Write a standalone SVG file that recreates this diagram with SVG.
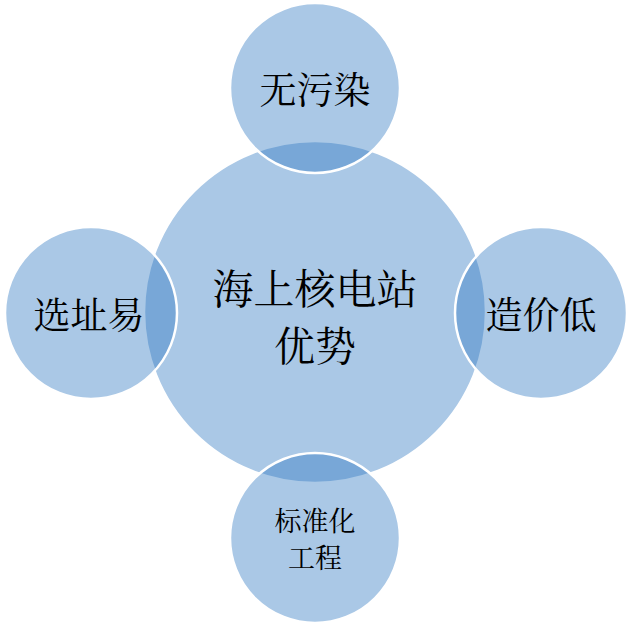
<svg xmlns="http://www.w3.org/2000/svg" width="631" height="627" viewBox="0 0 631 627">
<style>
.c{fill:rgb(48,121,194);fill-opacity:0.41;stroke:#ffffff;stroke-width:2.5}
.t{font-family:"Noto Serif CJK SC","Noto Sans CJK SC",serif;fill:#000;text-anchor:middle;dominant-baseline:central}
</style>
<rect width="631" height="627" fill="#ffffff"/>
<g id="center"><circle class="c" cx="315" cy="312" r="171"/>
<text class="t" x="315" y="286" font-size="41">海上核电站</text>
<text class="t" x="315" y="343" font-size="41">优势</text></g>
<g id="top"><circle class="c" cx="315" cy="88" r="85"/>
<text class="t" x="315" y="88" font-size="37">无污染</text></g>
<g id="left"><circle class="c" cx="91" cy="313" r="86"/>
<text class="t" x="89" y="313" font-size="37">选址易</text></g>
<g id="right"><circle class="c" cx="541" cy="313" r="86"/>
<text class="t" x="541" y="313" font-size="37">造价低</text></g>
<g id="bottom"><circle class="c" cx="315" cy="538" r="85"/>
<text class="t" x="315" y="519" font-size="27">标准化</text>
<text class="t" x="315" y="556" font-size="27">工程</text></g>
<g id="connectors"/>
</svg>
